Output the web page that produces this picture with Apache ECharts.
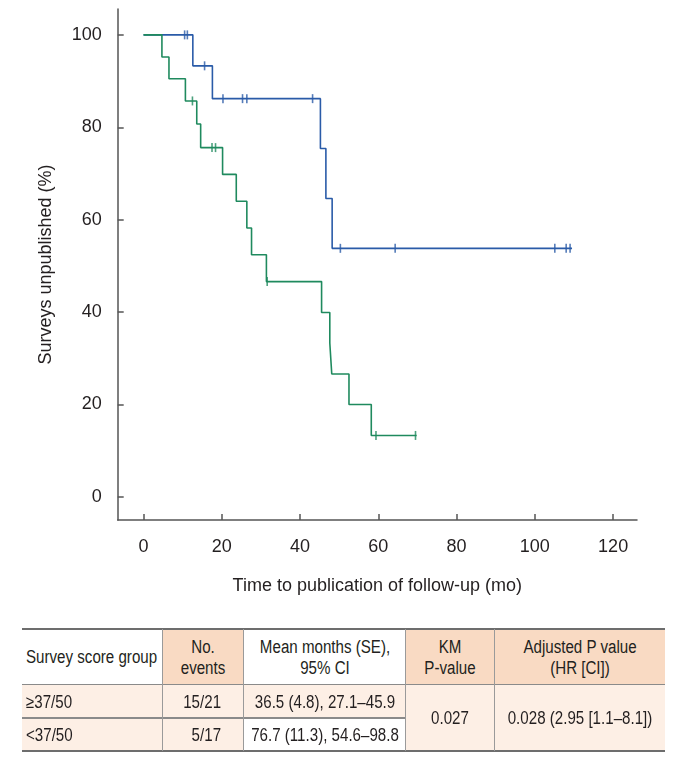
<!DOCTYPE html>
<html><head><meta charset="utf-8">
<script src="https://cdn.jsdelivr.net/npm/echarts@6/dist/echarts.min.js"></script>
<style>
html,body{margin:0;padding:0;background:#fff;}
#chart{position:absolute;left:0;top:0;width:676px;height:600px;}
#tbl{position:absolute;left:0;top:0;width:676px;height:768px;pointer-events:none;}
.bg{position:absolute;}
.ln{position:absolute;}
.tx{position:absolute;white-space:nowrap;font-family:'Liberation Sans',Arial,sans-serif;font-size:18px;line-height:20px;color:#231f20;}
.c{transform:translate(-50%,-50%) scaleX(0.84);transform-origin:center center;}
.l{transform:translateY(-50%) scaleX(0.84);transform-origin:left center;}
.r{transform:translateY(-50%) scaleX(0.84);transform-origin:right center;}
</style>
</head><body>
<div id="chart"></div>
<div id="tbl"></div>
<script>
// Group <37/50 (blue)
var blueTimes = [0, 12.6, 17.6, 45.2, 46.6, 48.2, 109.5];
var blueSurv  = [100, 93.3, 86.2, 75.4, 64.6, 53.8, 53.8];
var blueCensorT = [10.5, 11.2, 15.6, 20.3, 25.3, 26.4, 43.2, 50.3, 64.3, 105.1, 108.0, 109.0];
var blueCensorS = [100, 100, 93.3, 86.2, 86.2, 86.2, 86.2, 53.8, 53.8, 53.8, 53.8, 53.8];
// Group >=37/50 (green)
var greenTimes = [0, 4.7, 6.5, 10.7, 13.6, 14.6, 20.2, 23.7, 26.4, 27.6, 31.4, 45.5, 47.6, 48.1, 52.5, 58.2, 69.8];
var greenSurv  = [100, 95.2, 90.5, 85.7, 80.7, 75.6, 69.8, 64.0, 58.2, 52.4, 46.6, 39.9, 33.3, 26.6, 20.0, 13.3, 13.3];
var greenCensorT = [12.5, 17.5, 18.4, 31.6, 59.4, 69.5];
var greenCensorS = [85.7, 75.6, 75.6, 46.6, 13.3, 13.3];
// Ticks
var xTicks = [0, 20, 40, 60, 80, 100, 120];
var yTicks = [0, 20, 40, 60, 80, 100];
// Table text
var tableHeader = [['Survey score group'], ['No.', 'events'], ['Mean months (SE),', '95% CI'], ['KM', 'P-value'], ['Adjusted P value', '(HR [CI])']];
var tableGroups = ['≥37/50', '<37/50'];
var tableEvents = ['15/21', '5/17'];
var tableMeans = ['36.5 (4.8), 27.1–45.9', '76.7 (11.3), 54.6–98.8'];
var tableKM = '0.027';
var tableAdj = '0.028 (2.95 [1.1–8.1])';

var BLUE = '#2a5ba8', GREEN = '#1f8a5e';
var FONT = "'Liberation Sans', Arial, sans-serif";
var TXT = '#231f20';
function zip(a, b){ return a.map(function(v,i){ return [v, b[i]]; }); }

var chart = echarts.init(document.getElementById('chart'), null, {renderer:'canvas'});
chart.setOption({
  animation: false,
  grid: {left: 117.7, right: 39, top: 9, bottom: 76, containLabel: false},
  xAxis: {
    type: 'value', min: -6.6, max: 126.1,
    name: 'Time to publication of follow-up (mo)', nameLocation: 'middle', nameGap: 57,
    nameTextStyle: {fontFamily: FONT, fontSize: 18, color: TXT},
    axisLine: {show: true, onZero: false, lineStyle: {color: '#555', width: 1.5}},
    axisTick: {show: true, inside: true, length: 6, lineStyle: {color: '#555', width: 1.5}, customValues: xTicks},
    axisLabel: {fontFamily: FONT, fontSize: 18, color: TXT, margin: 18, customValues: xTicks},
    splitLine: {show: false}
  },
  yAxis: {
    type: 'value', min: -5, max: 105.6,
    name: 'Surveys unpublished (%)', nameLocation: 'middle', nameGap: 63,
    nameTextStyle: {fontFamily: FONT, fontSize: 18, color: TXT},
    axisLine: {show: true, onZero: false, lineStyle: {color: '#555', width: 1.5}},
    axisTick: {show: true, inside: true, length: 6, lineStyle: {color: '#555', width: 1.5}, customValues: yTicks},
    axisLabel: {fontFamily: FONT, fontSize: 18, color: TXT, margin: 16, customValues: yTicks},
    splitLine: {show: false}
  },
  series: [
    {type: 'line', step: 'end', data: zip(blueTimes, blueSurv), showSymbol: false, lineStyle: {color: BLUE, width: 1.6}, itemStyle: {color: BLUE}},
    {type: 'scatter', data: zip(blueCensorT, blueCensorS), symbol: 'rect', symbolSize: [1.6, 9], itemStyle: {color: BLUE}},
    {type: 'line', step: 'end', data: zip(greenTimes, greenSurv), showSymbol: false, lineStyle: {color: GREEN, width: 1.6}, itemStyle: {color: GREEN}},
    {type: 'scatter', data: zip(greenCensorT, greenCensorS), symbol: 'rect', symbolSize: [1.6, 9], itemStyle: {color: GREEN}}
  ]
});

// ---- Table layout ----
var T = document.getElementById('tbl');
var cx = [22, 162.3, 243.3, 405.7, 494.3, 665];
var ry = [629, 684.3, 718, 751];
var PK = '#f9dac3', LT = '#fdefe5', WH = '#ffffff';
function rect(x0, y0, x1, y1, col){
  var d = document.createElement('div'); d.className = 'bg';
  d.style.cssText = 'left:'+x0+'px;top:'+y0+'px;width:'+(x1-x0)+'px;height:'+(y1-y0)+'px;background:'+col;
  T.appendChild(d);
}
function hline(x0, x1, y, w, col){
  var d = document.createElement('div'); d.className = 'ln';
  d.style.cssText = 'left:'+x0+'px;top:'+(y-w/2)+'px;width:'+(x1-x0)+'px;height:'+w+'px;background:'+col;
  T.appendChild(d);
}
function vline(x, y0, y1, w, col){
  var d = document.createElement('div'); d.className = 'ln';
  d.style.cssText = 'left:'+(x-w/2)+'px;top:'+y0+'px;width:'+w+'px;height:'+(y1-y0)+'px;background:'+col;
  T.appendChild(d);
}
function text(s, x, y, align){
  var d = document.createElement('div'); d.className = 'tx ' + align;
  d.textContent = s;
  if (align === 'r') { d.style.right = (676 - x) + 'px'; } else { d.style.left = x + 'px'; }
  d.style.top = y + 'px';
  T.appendChild(d);
}
// backgrounds
var hdrCols = [WH, PK, WH, PK, PK];
for (var i = 0; i < 5; i++) rect(cx[i], ry[0], cx[i+1], ry[1], hdrCols[i]);
rect(cx[0], ry[1], cx[3], ry[2], LT);
rect(cx[0], ry[2], cx[2], ry[3], LT);
rect(cx[2], ry[2], cx[3], ry[3], WH);
rect(cx[3], ry[1], cx[5], ry[3], LT);
// lines
hline(cx[0], cx[5], ry[0], 2, '#6d6d6d');
hline(cx[0], cx[5], ry[1], 1.5, '#8a8a8a');
hline(cx[0], cx[3], ry[2], 1.5, '#8a8a8a');
hline(cx[0], cx[5], ry[3], 2, '#6d6d6d');
for (var j = 1; j < 5; j++) vline(cx[j], ry[0], ry[3], 1.5, '#9a9a9a');
// header text
var hy1 = 646.7, hy2 = 667.7, hyMid = 657;
text(tableHeader[0][0], 25.5, hyMid, 'l');
for (var k = 1; k < 5; k++) {
  var mid = (cx[k] + cx[k+1]) / 2;
  text(tableHeader[k][0], mid, hy1, 'c');
  text(tableHeader[k][1], mid, hy2, 'c');
}
// body text
var rowY = [701.5, 735];
for (var r = 0; r < 2; r++) {
  text(tableGroups[r], 25.5, rowY[r], 'l');
  text(tableEvents[r], 221, rowY[r], 'r');
  text(tableMeans[r], (cx[2] + cx[3]) / 2, rowY[r], 'c');
}
text(tableKM, (cx[3] + cx[4]) / 2, 718, 'c');
text(tableAdj, (cx[4] + cx[5]) / 2, 718, 'c');
</script>
</body></html>
